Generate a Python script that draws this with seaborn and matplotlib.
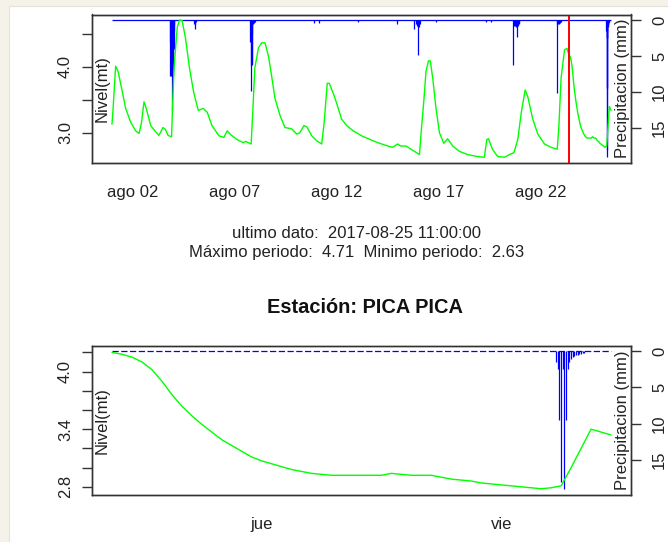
import matplotlib
matplotlib.use("Agg")
import matplotlib.pyplot as plt
import matplotlib.patches as mpatches
import seaborn as sns
import numpy as np
import pandas as pd

# ---- datos ----
inicio = pd.Timestamp("2017-08-01 00:00")
inicio_ult = pd.Timestamp("2017-08-23 09:00")

# nivel (mt), dias desde el 1 de agosto, hasta 23-ago 08:00
nivel_dias = [0.0, 0.05, 0.18, 0.30, 0.51, 0.67, 0.92, 1.16, 1.33, 1.45, 1.57, 1.68,
              1.90, 2.10, 2.30, 2.50, 2.62, 2.75, 2.92, 2.96, 3.04, 3.20, 3.31, 3.44,
              3.60, 3.80, 4.00, 4.23, 4.47, 4.67, 4.90, 5.24, 5.48, 5.65, 5.79, 6.12,
              6.44, 6.55, 6.82, 6.90, 7.00, 7.18, 7.34, 7.50, 7.67, 7.83, 7.99, 8.24,
              8.48, 8.81, 9.06, 9.20, 9.41, 9.55, 9.79, 10.03, 10.28, 10.40, 10.55, 10.65,
              10.88, 11.04, 11.25, 11.50, 11.82, 12.23, 12.64, 13.03, 13.52, 13.75, 14.00, 14.15,
              14.41, 14.66, 15.07, 15.15, 15.28, 15.39, 15.51, 15.60, 15.72, 15.88, 16.05, 16.26,
              16.45, 16.70, 17.02, 17.43, 17.92, 18.25, 18.37, 18.45, 18.65, 18.90, 19.24, 19.48,
              19.70, 19.89, 20.06, 20.25, 20.38, 20.62, 20.87, 21.20, 21.52, 21.82, 21.90, 22.01,
              22.18, 22.30]
nivel_hist = [3.13, 3.34, 4.01, 3.93, 3.62, 3.37, 3.16, 3.03, 2.99, 3.16, 3.47, 3.37,
              3.11, 3.03, 2.96, 3.08, 3.05, 2.96, 2.94, 3.31, 3.98, 4.60, 4.71, 4.70,
              4.44, 3.98, 3.62, 3.34, 3.37, 3.31, 3.11, 2.955, 2.93, 3.03, 2.98, 2.90,
              2.85, 2.87, 2.83, 3.31, 3.98, 4.29, 4.365, 4.365, 4.16, 3.85, 3.52, 3.26,
              3.08, 3.06, 2.98, 3.00, 3.11, 3.09, 2.955, 2.88, 2.83, 3.16, 3.75, 3.75,
              3.57, 3.42, 3.21, 3.11, 3.03, 2.955, 2.90, 2.85, 2.80, 2.78, 2.83, 2.80,
              2.80, 2.75, 2.67, 3.00, 3.47, 3.93, 4.09, 4.09, 3.83, 3.37, 3.00, 2.84,
              2.91, 2.80, 2.72, 2.67, 2.64, 2.63, 2.90, 2.91, 2.75, 2.64, 2.63, 2.67,
              2.70, 2.90, 3.31, 3.65, 3.545, 3.21, 2.98, 2.83, 2.78, 2.75, 3.08, 3.83,
              4.26, 4.28]

# nivel horario, ultimas 50 horas (23-ago 09:00 a 25-ago 11:00)
nivel_ult = [4.20, 4.18, 4.15, 4.10, 4.02, 3.90, 3.76, 3.64, 3.54, 3.45, 3.37, 3.29,
             3.23, 3.17, 3.11, 3.07, 3.04, 3.01, 2.98, 2.96, 2.94, 2.93, 2.92, 2.92,
             2.92, 2.92, 2.92, 2.92, 2.94, 2.93, 2.92, 2.92, 2.92, 2.90, 2.88, 2.87,
             2.86, 2.84, 2.83, 2.82, 2.81, 2.80, 2.79, 2.78, 2.79, 2.81, 3.00, 3.20,
             3.40, 3.37, 3.34]

# precipitacion (mm), dias desde el 1 de agosto
pp_dias = [2.84, 2.86, 2.88, 2.90, 2.92, 2.94, 2.96, 2.98, 3.00, 3.02, 3.04, 3.06,
           4.02, 4.05, 4.08, 4.11,
           6.78, 6.80, 6.82, 6.84, 6.86, 6.88, 6.92, 6.96, 7.00,
           9.91, 10.16, 12.07, 13.97,
           14.82, 14.90, 14.95, 15.02, 15.05, 15.10, 15.88, 18.33, 18.57,
           19.65, 19.69, 19.74, 19.79, 19.84, 19.89, 19.94, 19.97,
           21.80, 21.83, 21.87, 21.92, 21.96, 21.99]
pp_hist = [3.0, 7.8, 7.5, 7.8, 7.6, 7.8, 12.6, 7.8, 7.0, 4.0, 1.5, 0.5,
           0.6, 1.3, 0.6, 0.3,
           3.0, 6.2, 9.9, 6.2, 6.0, 2.0, 0.6, 0.4, 0.3,
           0.4, 0.4, 0.3, 0.55,
           1.3, 0.6, 0.8, 4.8, 1.0, 0.5, 0.3, 0.3, 0.3,
           6.3, 0.9, 0.8, 1.0, 2.3, 0.8, 0.6, 0.4,
           10.1, 0.6, 0.5, 0.6, 0.4, 0.3]

# ultima tormenta, cada 10 minutos desde 25-ago 05:30
pp_ult_inicio = pd.Timestamp("2017-08-25 05:30")
pp_ult = [1.5, 2.5, 9.5, 18.0, 2.5, 19.0, 9.5, 2.5, 1.5, 1.0, 0.8, 0.6,
          0.5, 0.5, 0.4, 0.4, 0.3, 0.3]

ticks_sup = ["2017-08-02", "2017-08-07", "2017-08-12", "2017-08-17", "2017-08-22"]
etiq_sup = ["ago 02", "ago 07", "ago 12", "ago 17", "ago 22"]
ticks_inf = ["2017-08-24", "2017-08-25"]
etiq_inf = ["jue", "vie"]
yticks_sup = [3.0, 3.5, 4.0, 4.5]
yetiq_sup = ["3.0", "", "4.0", ""]
yticks_inf = [2.8, 3.0, 3.2, 3.4, 3.6, 3.8, 4.0, 4.2]
yetiq_inf = ["2.8", "", "", "3.4", "", "", "4.0", ""]
pp_ticks = [0, 5, 10, 15]

# ---- tablas ----
t_hist = [inicio + pd.Timedelta(days=d) for d in nivel_dias]
t_ult = [inicio_ult + pd.Timedelta(hours=h) for h in range(len(nivel_ult))]
df_nivel = pd.DataFrame({"fecha": t_hist + t_ult, "nivel": nivel_hist + nivel_ult})
df_ult = pd.DataFrame({"fecha": t_ult, "nivel": nivel_ult})

t_pp_ult = [pp_ult_inicio + pd.Timedelta(minutes=10 * i) for i in range(len(pp_ult))]
df_pp = pd.DataFrame({"fecha": [inicio + pd.Timedelta(days=d) for d in pp_dias] + t_pp_ult,
                      "pp": pp_hist + pp_ult})
df_pp_ult = pd.DataFrame({"fecha": t_pp_ult, "pp": pp_ult})

sns.set_theme(style="white")
plt.rcParams["font.family"] = ["Liberation Sans", "DejaVu Sans"]
plt.rcParams["axes.edgecolor"] = "#333333"

VERDE, AZUL, ROJO = "#00ff00", "#0000ff", "#ff0000"

fig = plt.figure(figsize=(6.68, 5.42), dpi=100, facecolor="#f5f2ea")
fig.patches.append(mpatches.Rectangle((9 / 668, 0), 1, 1 - 6 / 542, transform=fig.transFigure,
                                      facecolor="white", edgecolor="#e6e1d3", lw=0.8, zorder=-1))


def rango(vmin, vmax):
    r = vmax - vmin
    return vmin - 0.04 * r, vmax + 0.04 * r


def panel(ax, df, pp, dashed, xt, xl, yt, yl, ylim):
    ax.set_facecolor("none")
    ax2 = ax.twinx()
    ax.set_zorder(ax2.get_zorder() + 1)
    # precipitacion (eje invertido)
    ax2.hlines(0, df["fecha"].iloc[0], df["fecha"].iloc[-1], color=AZUL, lw=0.9,
               linestyle=(0, (5, 2)) if dashed else "-")
    ax2.vlines(pp["fecha"], 0, pp["pp"], color=AZUL, lw=0.9)
    p0, p1 = rango(0, 19.03)
    ax2.set_ylim(p1, p0)
    ax2.set_yticks(pp_ticks)
    ax2.set_yticklabels([str(v) for v in pp_ticks], rotation=90, va="center")
    # nivel
    sns.lineplot(data=df, x="fecha", y="nivel", color=VERDE, lw=1.0, ax=ax, estimator=None)
    ax.set_ylim(*ylim)
    ax.set_yticks(yt)
    ax.set_yticklabels(yl, rotation=90, va="center")
    ax.set_xticks(pd.to_datetime(xt))
    ax.set_xticklabels(xl)
    t0, t1 = df["fecha"].iloc[0], df["fecha"].iloc[-1]
    span = t1 - t0
    ax.set_xlim(t0 - 0.04 * span, t1 + 0.04 * span)
    ax.set_xlabel("")
    ax.set_ylabel("")
    for a in (ax, ax2):
        a.tick_params(length=7.2, width=1, color="#333333", labelsize=12, pad=7,
                      labelcolor="#222222")
        for s in a.spines.values():
            s.set_linewidth(1.0)
    ax.tick_params(axis="x", pad=9)
    ax.tick_params(axis="y", left=True, pad=6.5)
    ax2.tick_params(axis="y", right=True, pad=8)
    ax.text(0.0186, 0.5, "Nivel(mt)", transform=ax.transAxes, rotation=90,
            ha="center", va="center", fontsize=12, color="#222222")
    ax.text(0.984, 0.5, "Precipitacion (mm)", transform=ax.transAxes, rotation=90,
            ha="center", va="center", fontsize=12, color="#222222")
    return ax2


ax1 = fig.add_axes([92 / 668, 1 - 162.7 / 542, 539 / 668, 148.2 / 542])
panel(ax1, df_nivel, df_pp, False, ticks_sup, etiq_sup, yticks_sup, yetiq_sup,
      rango(min(nivel_hist + nivel_ult), max(nivel_hist + nivel_ult)))
ax1.axvline(inicio_ult, color=ROJO, lw=1.4)

ax3 = fig.add_axes([92 / 668, 1 - 494.5 / 542, 539 / 668, 148.7 / 542])
panel(ax3, df_ult, df_pp_ult, True, ticks_inf, etiq_inf, yticks_inf, yetiq_inf,
      (2.72, 4.268))

fig.text(357 / 668, 1 - 233.5 / 542, "ultimo dato:  2017-08-25 11:00:00",
         ha="center", va="center", fontsize=12, color="#222222")
fig.text(357 / 668, 1 - 252.5 / 542,
         "Máximo periodo:  %.2f  Minimo periodo:  %.2f" % (max(nivel_hist + nivel_ult),
                                                           min(nivel_hist + nivel_ult)),
         ha="center", va="center", fontsize=12, color="#222222")
fig.text(365 / 668, 1 - 307.5 / 542, "Estación: PICA PICA", ha="center", va="center",
         fontsize=14.4, fontweight="bold", color="#111111")

fig.savefig("out.png", dpi=100, facecolor=fig.get_facecolor())
